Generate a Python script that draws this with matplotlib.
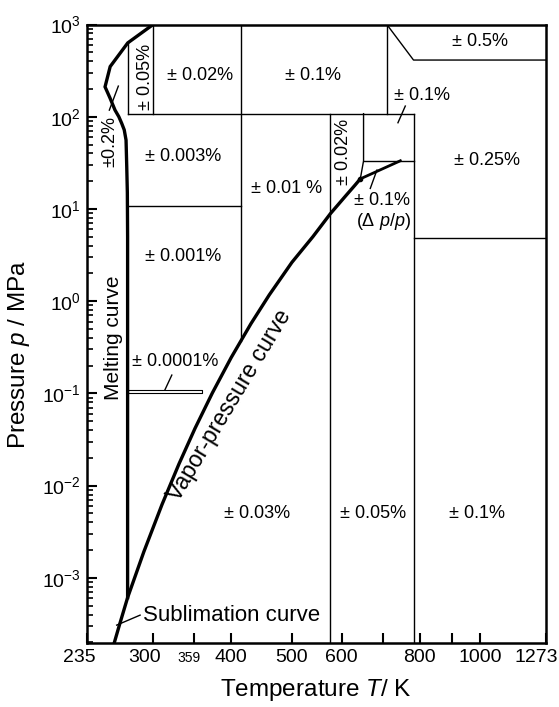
import matplotlib
matplotlib.use('Agg')
from matplotlib import pyplot as plt
import matplotlib.transforms as mtrans
from matplotlib.ticker import FixedLocator, NullLocator, LogLocator, LogFormatterMathtext, NullFormatter

plt.rcParams['font.family'] = ['Liberation Sans', 'DejaVu Sans']
plt.rcParams['mathtext.fontset'] = 'custom'
plt.rcParams['mathtext.rm'] = 'Liberation Sans'
plt.rcParams['mathtext.it'] = 'Liberation Sans:italic'

############# Data (T in K, p in MPa) ############
T_MIN, T_MAX = 235, 1273
P_MIN, P_MAX = 1.95e-4, 1000

t_ticks = [235, 300, 349, 400, 500, 600, 700, 800, 900, 1000, 1273]
t_tick_labels = ['235', '300', '', '400', '500', '600', '', '800', '', '1000', '1273']

# melting curve
T_melt = [273.16, 273.16, 272.9, 272.3, 271.6, 269.8, 267.3, 264.5, 260.8, 256.0, 251.4, 256.2, 273.3, 300.0]
p_melt = [6.1e-4, 5.0, 15.0, 28.7, 55.8, 72.0, 84.8, 100.0, 118.0, 160.0, 211.0, 350.0, 632.0, 1000.0]

# sublimation + vapour-pressure curve up to the critical point
T_vap = [255.0, 260.0, 265.0, 273.16, 290.0, 310.0, 330.0, 350.0, 373.15, 400.0, 430.0, 460.0, 500.0, 540.0, 576.0, 610.0, 630.0, 643.0]
p_vap = [1.3e-4, 1.96e-4, 3.06e-4, 6.1e-4, 1.92e-3, 6.23e-3, 1.72e-2, 4.17e-2, 0.1013, 0.2457, 0.570, 1.17, 2.64, 5.0, 8.9, 14.0, 18.0, 21.2]

# thick line beyond the critical point
T_crit_ext = [643.0, 745.0]
p_crit_ext = [21.2, 33.3]

# region boundaries
bounds_T = [
    [273.3, 273.3], [300, 300], [273.3, 782], [414, 414], [273.0, 414],
    [575.6, 575.6], [709, 709], [709, 782, 1273], [782, 782], [782, 1273],
    [650.7, 650.7, 643.0], [650.7, 782],
]
bounds_p = [
    [632, 108], [1000, 108], [108, 108], [1000, 0.37], [10.7, 10.7],
    [108, 1e-4], [1000, 108], [1000, 412, 412], [108, 1e-4], [4.9, 4.9],
    [108, 33.3, 21.2], [33.3, 33.3],
]

# narrow +-0.0001 % band at atmospheric pressure
band_T = [273.16, 359, 359, 273.16, 273.16]
band_p = [0.1015, 0.1015, 0.1087, 0.1087, 0.1015]

# leader lines
leaders_T = [[264.0, 255.4], [758.7, 738.5], [667, 683.5], [321.4, 313.5], [286, 262.4]]
leaders_p = [[215, 118], [130.6, 86.1], [16.7, 26.4], [0.158, 0.110], [3.94e-4, 3.07e-4]]

# region labels: text, T, p, rotation
labels_txt = ['± 0.02%', '± 0.05%', '±0.2%', '± 0.1%', '± 0.5%', '± 0.1%', '± 0.003%',
              '± 0.01 %', '± 0.02%', '± 0.25%', '± 0.1%', '(Δ $p$/$p$)', '± 0.001%',
              '± 0.0001%', '± 0.03%', '± 0.05%', '± 0.1%']
labels_T = [356.7, 291.3, 256.1, 541.2, 1000, 806.6, 335.4, 491, 604.5, 1025, 696.3, 699.5,
            335.4, 325.3, 439.9, 674.3, 989]
labels_p = [283, 271, 53.6, 283, 650, 171.8, 36.8, 16.7, 41.7, 33.9, 12.5, 7.26,
            3.03, 0.220, 5e-3, 5e-3, 5e-3]
labels_rot = [0, 90, 90, 0, 0, 0, 0, 0, 90, 0, 0, 0, 0, 0, 0, 0, 0]
########################################

fig = plt.figure(figsize=(5.59, 7.07), dpi=100)
ax = fig.add_axes([0.1551, 0.0901, 0.8216, 0.8752])
ax.set_xscale('log')
ax.set_yscale('log')
ax.set_xlim(T_MIN, T_MAX)
ax.set_ylim(P_MIN, P_MAX)

for Tb, pb in zip(bounds_T, bounds_p):
    ax.plot(Tb, pb, color='black', lw=1.0)
ax.plot(band_T, band_p, color='black', lw=0.8)
for Tl, pl in zip(leaders_T, leaders_p):
    ax.plot(Tl, pl, color='black', lw=1.0)

ax.plot(T_melt, p_melt, color='black', lw=2.4, solid_joinstyle='miter')
ax.plot(T_vap, p_vap, color='black', lw=2.4)
ax.plot(T_crit_ext, p_crit_ext, color='black', lw=2.0)
ax.plot([T_vap[-1]], [p_vap[-1]], 'o', color='black', ms=3)

for txt, T, p, rot in zip(labels_txt, labels_T, labels_p, labels_rot):
    ax.text(T, p, txt, ha='center', va='center', rotation=rot, fontsize=13)

ax.text(258.9, 0.398, 'Melting curve', ha='center', va='center', rotation=90, fontsize=15)
ax.text(397, 0.075, 'Vapor-pressure curve', ha='center', va='center', rotation=59,
        rotation_mode='anchor', fontsize=16.5)
ax.text(288.8, 3.94e-4, 'Sublimation curve', ha='left', va='center', fontsize=16)

# axes, ticks
for s in ax.spines.values():
    s.set_linewidth(1.8)
ax.xaxis.set_major_locator(FixedLocator(t_ticks))
ax.xaxis.set_minor_locator(NullLocator())
ax.set_xticklabels(t_tick_labels)
ax.xaxis.set_minor_formatter(NullFormatter())
ax.yaxis.set_major_locator(LogLocator(base=10))
ax.yaxis.set_major_formatter(LogFormatterMathtext())
ax.yaxis.set_minor_locator(LogLocator(base=10, subs=range(2, 10), numticks=20))
ax.yaxis.set_minor_formatter(NullFormatter())
ax.tick_params(which='major', direction='in', length=7, width=1.5, labelsize=14,
               top=False, right=False, pad=4)
ax.tick_params(which='minor', direction='in', length=4, width=1.2, top=False, right=False)

shifts = {'235': -7, '300': -9, '1273': -10}
for lab in ax.get_xticklabels():
    dx = shifts.get(lab.get_text(), 0)
    if dx:
        lab.set_transform(lab.get_transform() + mtrans.ScaledTranslation(dx / 100, 0, fig.dpi_scale_trans))

trans = mtrans.blended_transform_factory(ax.transData, ax.transAxes)
ax.text(342, -0.0125, '359', transform=trans, ha='center', va='top', fontsize=10)

ax.set_xlabel('Temperature $T$/ K', fontsize=17.5, labelpad=8)
ax.set_ylabel('Pressure $p$ / MPa', fontsize=17.5)
ax.yaxis.set_label_coords(-0.12, 0.4675)

fig.savefig('out.png', dpi=100)
